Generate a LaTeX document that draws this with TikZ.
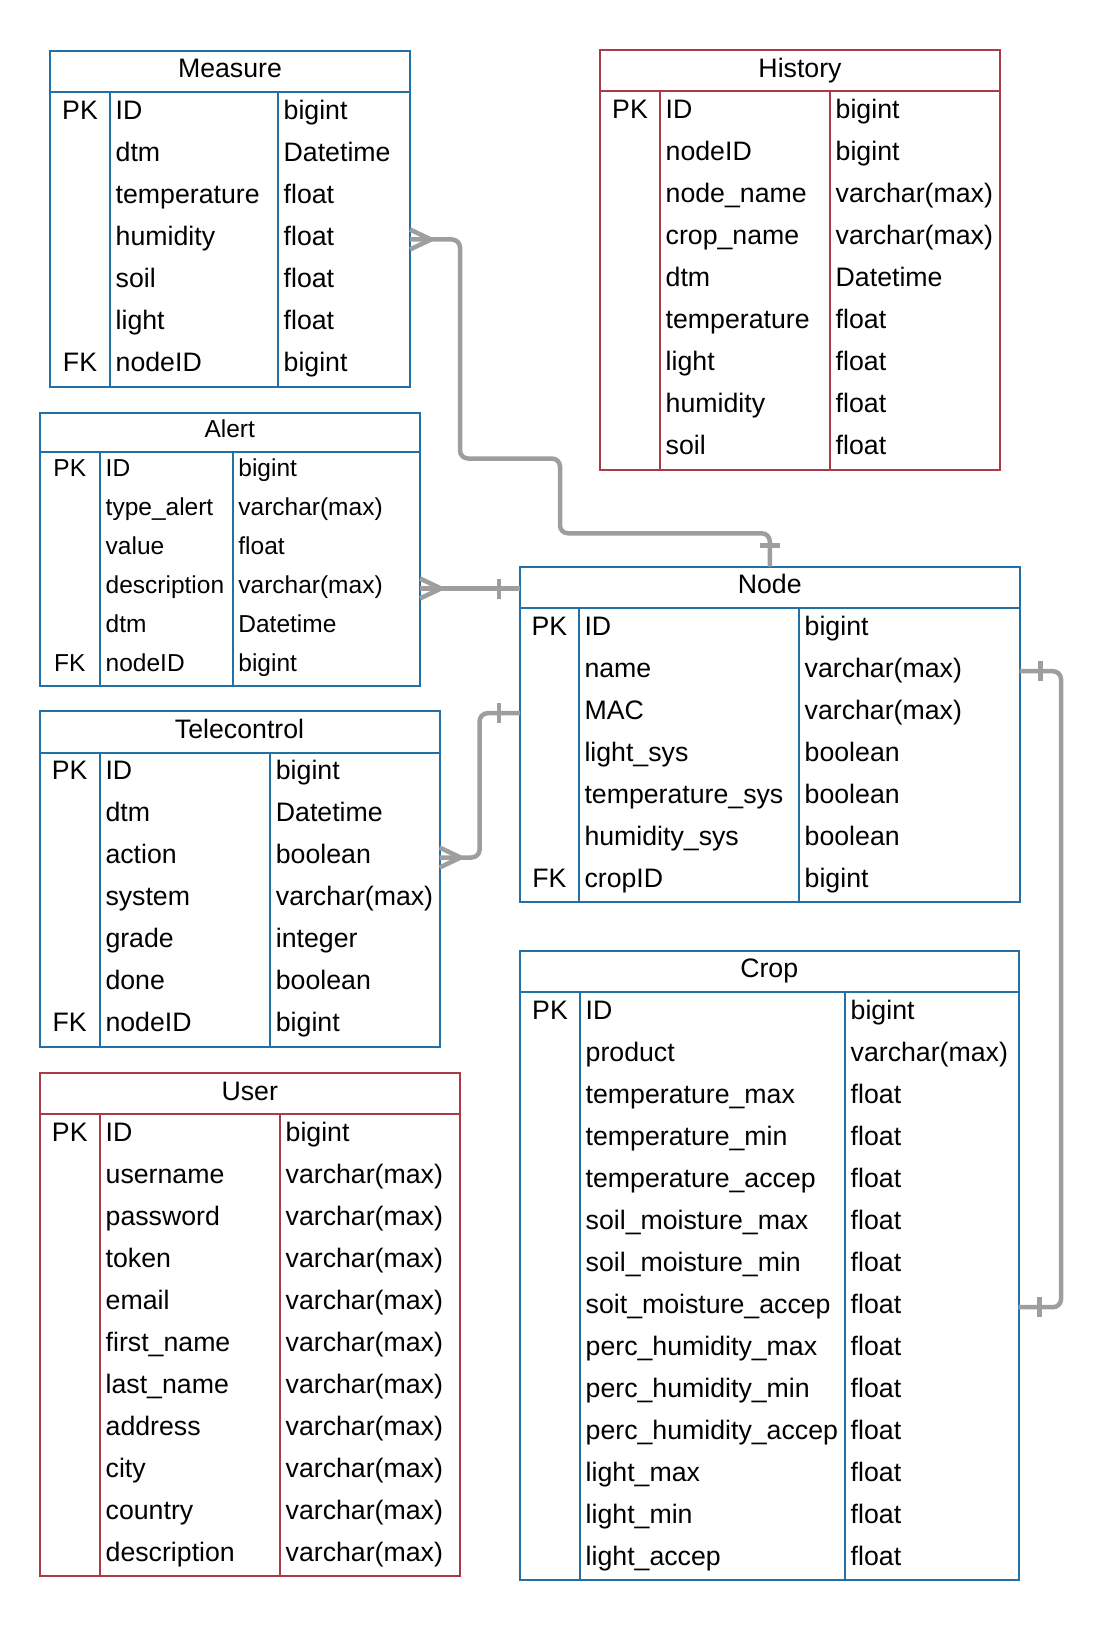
\documentclass[tikz,border=0pt]{standalone}
\usepackage{fontspec}
\setmainfont{Liberation Sans}
\begin{document}
\definecolor{erblue}{HTML}{2270A5}
\definecolor{erred}{HTML}{AB3A47}
\definecolor{linkgray}{HTML}{9E9E9E}
\newcommand\bigfont{\fontsize{26.7}{31}\selectfont}
\newcommand\smallfont{\fontsize{24.5}{29}\selectfont}
% table parameters: colour, header height, row height, title baseline, row baseline, font
\newcommand\tblsetup[6]{\def\tcol{#1}\def\hh{#2}\def\rh{#3}\def\hb{#4}\def\rb{#5}\def\tfont{#6}}
\tikzset{
  tblbox/.style={draw=\tcol, line width=2pt, inner sep=0pt, outer sep=0pt},
  tblrule/.style={draw=\tcol, line width=2pt},
  keytext/.style={anchor=base, inner sep=0pt, font=\tfont},
  celltext/.style={anchor=base west, inner sep=0pt, font=\tfont},
  link/.style={draw=linkgray, line width=4.5pt, rounded corners=8pt},
  linkend/.style={draw=linkgray, line width=4.5pt},
}
% name, title, left, top, right, column 1, column 2, number of rows, rows (key/field/type)
\newcommand\ertable[9]{%
  \node[tblbox, minimum width={(#5-#3)*1pt}, minimum height={(\hh+#8*\rh)*1pt}]
    (#1) at ({(#3+#5)/2},{#4+(\hh+#8*\rh)/2}) {};
  \draw[tblrule] (#3,{#4+\hh}) -- (#5,{#4+\hh});
  \draw[tblrule] (#6,{#4+\hh}) -- (#6,{#4+\hh+#8*\rh});
  \draw[tblrule] (#7,{#4+\hh}) -- (#7,{#4+\hh+#8*\rh});
  \node[keytext] (#1-title) at ({(#3+#5)/2},{#4+\hb}) {#2};
  \coordinate (#1-hL) at (#3,{#4+\hh/2});
  \coordinate (#1-hR) at (#5,{#4+\hh/2});
  \foreach \xkey/\xfield/\xtype [count=\i from 0] in {#9} {
    \node[keytext] (#1-k\i) at ({(#3+#6)/2},{#4+\hh+\i*\rh+\rb}) {\xkey};
    \node[celltext] (#1-f\i) at ({#6+5.5},{#4+\hh+\i*\rh+\rb}) {\xfield};
    \node[celltext] (#1-t\i) at ({#7+5.5},{#4+\hh+\i*\rh+\rb}) {\xtype};
    \coordinate (#1-L\i) at (#3,{#4+\hh+(\i+0.5)*\rh});
    \coordinate (#1-R\i) at (#5,{#4+\hh+(\i+0.5)*\rh});
  }%
}
% connector ends: crow's foot and single bar
\newcommand\crowright[1]{\draw[linkend] ([xshift=21pt]#1) -- ([yshift=10pt]#1) ([xshift=21pt]#1) -- ([yshift=-10pt]#1);}
\newcommand\barright[1]{\draw[linkend] ([xshift=21pt,yshift=10pt]#1) -- ([xshift=21pt,yshift=-10pt]#1);}
\newcommand\barleft[1]{\draw[linkend] ([xshift=-21pt,yshift=10pt]#1) -- ([xshift=-21pt,yshift=-10pt]#1);}
\newcommand\bartop[1]{\draw[linkend] ([yshift=21pt,xshift=-10pt]#1) -- ([yshift=21pt,xshift=10pt]#1);}

\begin{tikzpicture}[x=1pt,y=-1pt]
\useasboundingbox (0,0) rectangle (1114,1629);

\tblsetup{erblue}{41.5}{42}{27}{27}{\bigfont}
\ertable{measure}{Measure}{50}{51}{410}{110}{278}{7}{PK/ID/bigint, {}/dtm/Datetime, {}/temperature/float, {}/humidity/float, {}/soil/float, {}/light/float, FK/nodeID/bigint}

\ertable{tele}{Telecontrol}{39.5}{711}{439.6}{99.8}{270.2}{7}{PK/ID/bigint, {}/dtm/Datetime, {}/action/boolean, {}/system/varchar(max), {}/grade/integer, {}/done/boolean, FK/nodeID/bigint}

\ertable{nodetbl}{Node}{520}{566.7}{1019.5}{578.8}{799}{7}{PK/ID/bigint, {}/name/varchar(max), {}/MAC/varchar(max), {}/light\_sys/boolean, {}/temperature\_sys/boolean, {}/humidity\_sys/boolean, FK/cropID/bigint}

\ertable{crop}{Crop}{520}{950.7}{1018.5}{580}{845}{14}{PK/ID/bigint, {}/product/varchar(max), {}/temperature\_max/float, {}/temperature\_min/float, {}/temperature\_accep/float, {}/soil\_moisture\_max/float, {}/soil\_moisture\_min/float, {}/soit\_moisture\_accep/float, {}/perc\_humidity\_max/float, {}/perc\_humidity\_min/float, {}/perc\_humidity\_accep/float, {}/light\_max/float, {}/light\_min/float, {}/light\_accep/float}

\tblsetup{erred}{41.5}{42}{27.5}{27}{\bigfont}
\ertable{history}{History}{600}{50}{1000}{660}{830}{9}{PK/ID/bigint, {}/nodeID/bigint, {}/node\_name/varchar(max), {}/crop\_name/varchar(max), {}/dtm/Datetime, {}/temperature/float, {}/light/float, {}/humidity/float, {}/soil/float}

\ertable{user}{User}{39.5}{1072.7}{460}{100}{280}{11}{PK/ID/bigint, {}/username/varchar(max), {}/password/varchar(max), {}/token/varchar(max), {}/email/varchar(max), {}/first\_name/varchar(max), {}/last\_name/varchar(max), {}/address/varchar(max), {}/city/varchar(max), {}/country/varchar(max), {}/description/varchar(max)}

\tblsetup{erblue}{39}{39}{24}{24}{\smallfont}
\ertable{alert}{Alert}{39.5}{413}{420}{100}{232.7}{6}{PK/ID/bigint, {}/type\_alert/varchar(max), {}/value/float, {}/description/varchar(max), {}/dtm/Datetime, FK/nodeID/bigint}

% relationships
\draw[link] (measure-R3) -| (460,458.5) -| (560,533.3) -| (nodetbl.north);
\crowright{measure-R3}
\bartop{nodetbl.north}

\draw[link] (alert-R3) -- (alert-R3 -| nodetbl.west);
\crowright{alert-R3}
\barleft{alert-R3 -| nodetbl.west}

\draw[link] (tele-R2) -- ++(40,0) |- (nodetbl-L2);
\crowright{tele-R2}
\barleft{nodetbl-L2}

\draw[link] (nodetbl-R1) -- ++(41.5,0) |- (crop-R7);
\barright{nodetbl-R1}
\barright{crop-R7}
\end{tikzpicture}
\end{document}
